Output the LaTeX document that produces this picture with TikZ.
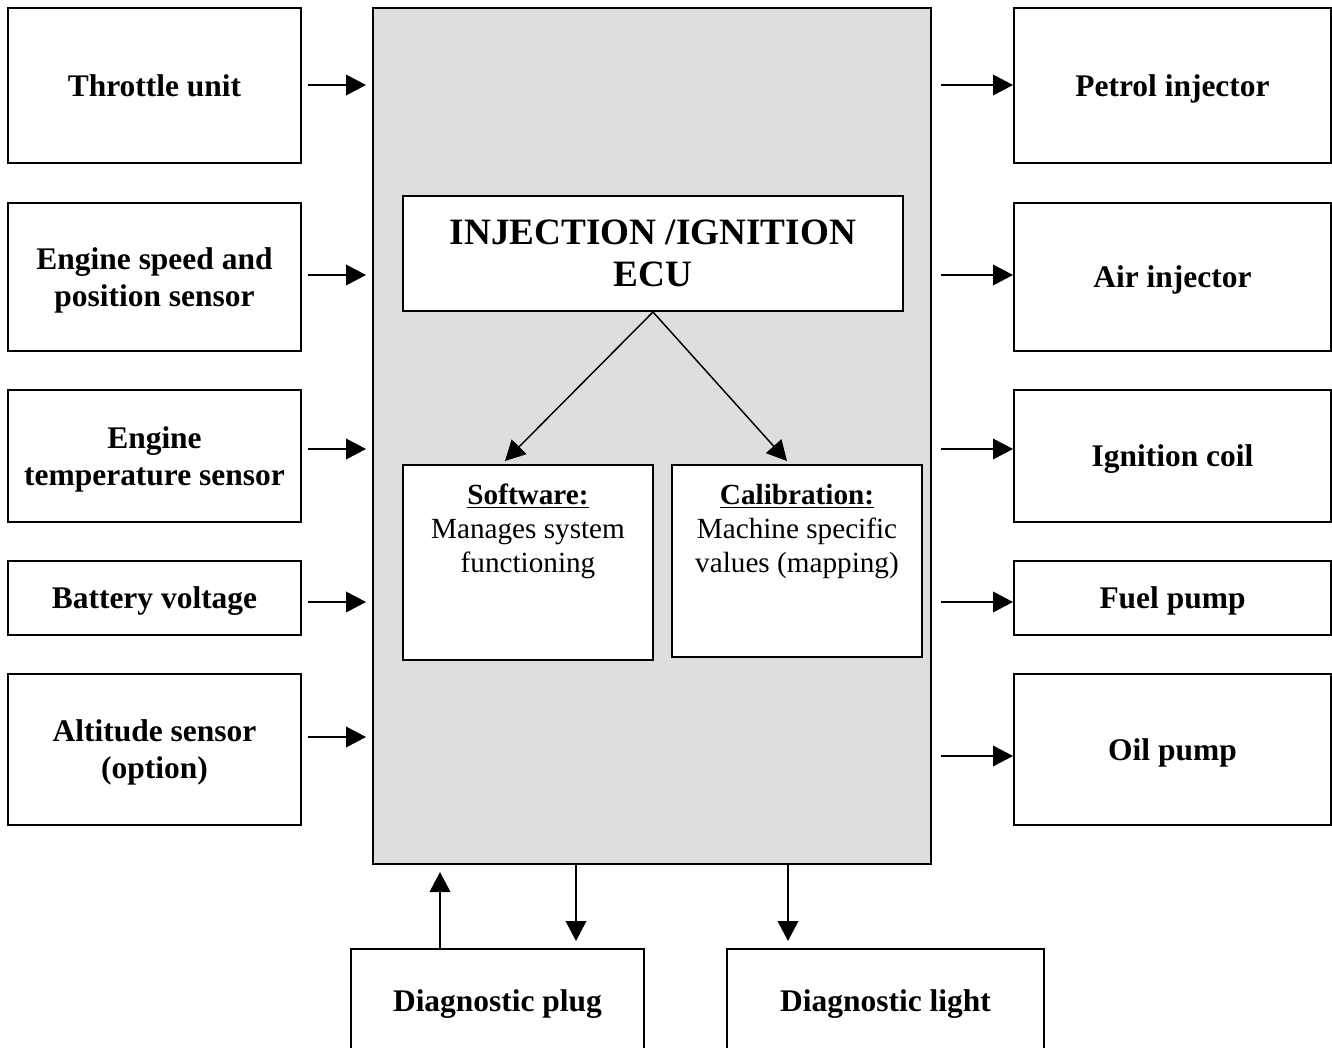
\documentclass[tikz,border=0pt]{standalone}
\usepackage{fontspec}
\setmainfont{Liberation Serif}
\usetikzlibrary{arrows.meta,calc}
\newcommand\boxfont{\fontsize{23.6}{27.75}\selectfont\bfseries}
\newcommand\titlefont{\fontsize{27.9}{31.5}\selectfont\bfseries}
\newcommand\bodyfont{\fontsize{21.9}{25.5}\selectfont}
\definecolor{ecugray}{HTML}{DEDEDE}
\begin{document}
\begin{tikzpicture}[x=0.75pt,y=-0.75pt,
  bx/.style n args={4}{minimum width={(#3-#1)*0.75pt}, minimum height={(#4-#2)*0.75pt}, at={({(#1+#3)/2},{(#2+#4)/2})}},
  box/.style={draw,line width=1.5pt,inner sep=0pt,fill=white,align=center,font=\boxfont,text depth=0pt},
  arr/.style={line width=1.1pt,-{Triangle[length=15pt,width=15.5pt]}}]
\useasboundingbox (0,0) rectangle (1332,1048);
% ECU
\node[draw,line width=1.5pt,fill=ecugray,inner sep=0pt,bx={373}{8}{931}{864}] (ecu) {};
% left inputs
\node[box,bx={8}{8}{301}{163}] (thr) {Throttle unit};
\node[box,bx={8}{203}{301}{351}] (spd) {Engine speed and\\position sensor};
\node[box,bx={8}{390}{301}{522}] (tmp) {Engine\\temperature sensor};
\node[box,bx={8}{561}{301}{635}] (bat) {Battery voltage};
\node[box,bx={8}{674}{301}{825}] (alt) {Altitude sensor\\(option)};
% right outputs
\node[box,bx={1014}{8}{1331}{163}] (pet) {Petrol injector};
\node[box,bx={1014}{203}{1331}{351}] (air) {Air injector};
\node[box,bx={1014}{390}{1331}{522}] (ign) {Ignition coil};
\node[box,bx={1014}{561}{1331}{635}] (fue) {Fuel pump};
\node[box,bx={1014}{674}{1331}{825}] (oil) {Oil pump};
% inner boxes
\node[box,font=\titlefont,bx={403}{196}{903}{311}] (title) {INJECTION /IGNITION\\ECU};
\node[box,bx={403}{465}{653}{660}] (soft) {};
\node[box,bx={672}{465}{922}{657}] (cal) {};
\node[anchor=north,align=center,font=\bodyfont,inner sep=0pt] (softtxt) at ([yshift=-15pt]soft.north) {\textbf{\underline{Software:}}\\Manages system\\functioning};
\node[anchor=north,align=center,font=\bodyfont,inner sep=0pt] (caltxt) at ([yshift=-15pt]cal.north) {\textbf{\underline{Calibration:}}\\Machine specific\\values (mapping)};
% bottom boxes
\node[box,bx={351}{949}{644}{1052}] (plug) {Diagnostic plug};
\node[box,bx={727}{949}{1044}{1052}] (light) {Diagnostic light};
% left arrows
\draw[arr] ($(thr.east)+(6,-0.5)$) -- ++(58,0);
\draw[arr] ($(spd.east)+(6,-2)$) -- ++(58,0);
\draw[arr] ($(tmp.east)+(6,-7)$) -- ++(58,0);
\draw[arr] ($(bat.east)+(6,4)$) -- ++(58,0);
\draw[arr] ($(alt.east)+(6,-12.5)$) -- ++(58,0);
% right arrows
\coordinate (pin) at ($(pet.west)+(0,-0.5)$);
\coordinate (ain) at ($(air.west)+(0,-2)$);
\coordinate (iin) at ($(ign.west)+(0,-7)$);
\coordinate (fin) at ($(fue.west)+(0,4)$);
\coordinate (oin) at ($(oil.west)+(0,6.5)$);
\draw[arr] ($(ecu.east |- pin)+(9,0)$) -- (pin);
\draw[arr] ($(ecu.east |- ain)+(9,0)$) -- (ain);
\draw[arr] ($(ecu.east |- iin)+(9,0)$) -- (iin);
\draw[arr] ($(ecu.east |- fin)+(9,0)$) -- (fin);
\draw[arr] ($(ecu.east |- oin)+(9,0)$) -- (oin);
% ECU internal
\draw[arr] (title.south) -- ($(soft.north)+(-23,-3)$);
\draw[arr] (title.south) -- ($(cal.north)+(-10,-3)$);
% bottom arrows
\draw[arr] ($(plug.north west)+(90,0)$) -- ++(0,-76);
\draw[arr] (ecu.south -| 576,0) -- ($(plug.north -| 576,0)+(0,-7)$);
\draw[arr] (ecu.south -| 788,0) -- ($(light.north -| 788,0)+(0,-7)$);
\end{tikzpicture}
\end{document}
